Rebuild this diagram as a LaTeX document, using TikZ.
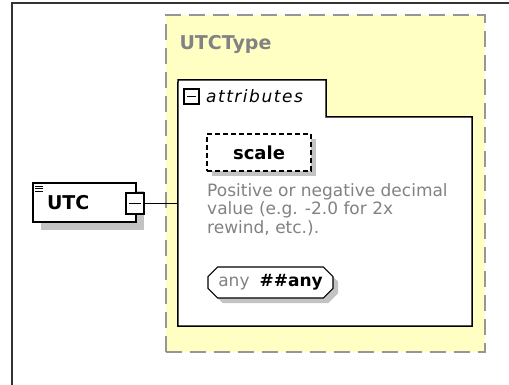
\documentclass[tikz,border=0pt]{standalone}
\usepackage{fontspec}
\setmainfont{DejaVu Sans}
\newfontfamily\widesans[LetterSpace=9]{DejaVu Sans}
\usetikzlibrary{positioning,calc,shapes.misc,shadows}

\definecolor{paleyellow}{RGB}{255,255,196}
\definecolor{dashgray}{RGB}{150,150,150}
\definecolor{shade}{RGB}{195,195,195}
\definecolor{textgray}{RGB}{130,130,130}

\begin{document}
\begin{tikzpicture}[x=1pt,y=-1pt,
		typebox/.style={draw=dashgray, fill=paleyellow, line width=2pt, dash pattern=on 16pt off 8pt, minimum width=319pt, minimum height=337pt},
		elem/.style={draw, line width=1.3pt, fill=white, align=left, text width=75pt, inner xsep=14pt, minimum height=39pt, font=\fontsize{19}{21}\selectfont\bfseries,
			drop shadow={shadow xshift=8pt, shadow yshift=-8pt, fill=shade, opacity=1}},
		attr/.style={draw, dash pattern=on 5pt off 3pt, line width=1.2pt, fill=white, minimum width=104pt, minimum height=37pt, font=\fontsize{18}{20}\selectfont\bfseries,
			drop shadow={shadow xshift=5pt, shadow yshift=-5pt, fill=shade, opacity=1}},
		wild/.style={draw, chamfered rectangle, chamfered rectangle xsep=6pt, line width=1.2pt, fill=white, minimum width=125pt, minimum height=31pt, inner sep=2pt, font=\fontsize{17}{19}\selectfont,
			drop shadow={shadow xshift=5pt, shadow yshift=-5pt, fill=shade, opacity=1}},
		minusbox/.style={draw, line width=1.2pt, fill=white, inner sep=0pt,
			path picture={\draw[line width=1.2pt] ([xshift=3pt]path picture bounding box.west) -- ([xshift=-3pt]path picture bounding box.east);}},
		conn/.style={line width=1.2pt}
		]
		\useasboundingbox (0,0) rectangle (509,385);
		
		% Frame
		\draw[line width=1.3pt, black!80] (12,385) -- (12,3) -- (509,3);
		
		% Complex type
		\node[typebox] (utctype) at (325.5,183.5) {};
		\node[anchor=west, text=textgray, font=\fontsize{19}{22}\selectfont\bfseries] (typename) at (176,45) {UTCType};
		
		% Attributes group
		\node[minimum width=294pt, minimum height=209pt, inner sep=0pt] (attrs) at (325,221.5) {};
		\draw[line width=1.5pt, fill=white] (attrs.south west) -- (178,80) -- (326,80) -- (326,117) -- (attrs.north east) -- (attrs.south east) -- cycle;
		\node[minusbox, minimum size=15pt] (attricon) at (191.5,96.5) {};
		\node[right=3pt of attricon, font=\widesans\fontsize{17}{19}\selectfont\itshape] (attrname) {attributes};
		
		\node[attr] (scale) at (259,152.5) {scale};
		\node[anchor=north west, text=textgray, align=left, inner sep=0pt, font=\fontsize{17}{18.5}\selectfont] (descr) at (207,183) {
			Positive or negative decimal\\
			value (e.g. -2.0 for 2x\\
			rewind, etc.).
		};
		\node[wild] (anyattr) at (270.5,282.5) {\textcolor{textgray}{any}\hspace{10pt}\textbf{\#\#any}};
		
		% Element
		\node[elem] (utc) at (84.5,202.5) {UTC};
		\foreach \k in {0,1,2}
		\draw[line width=0.9pt] ($(utc.north west)+(3,4+2.5*\k)$) -- ++(8,0);
		\node[minusbox, minimum width=18pt, minimum height=21pt] (utcminus) at (135,203.5) {};
		
		% Connector
		\draw[conn] (utcminus.east) -- (utcminus.east -| attrs.west);
		
	\end{tikzpicture}
\end{document}
